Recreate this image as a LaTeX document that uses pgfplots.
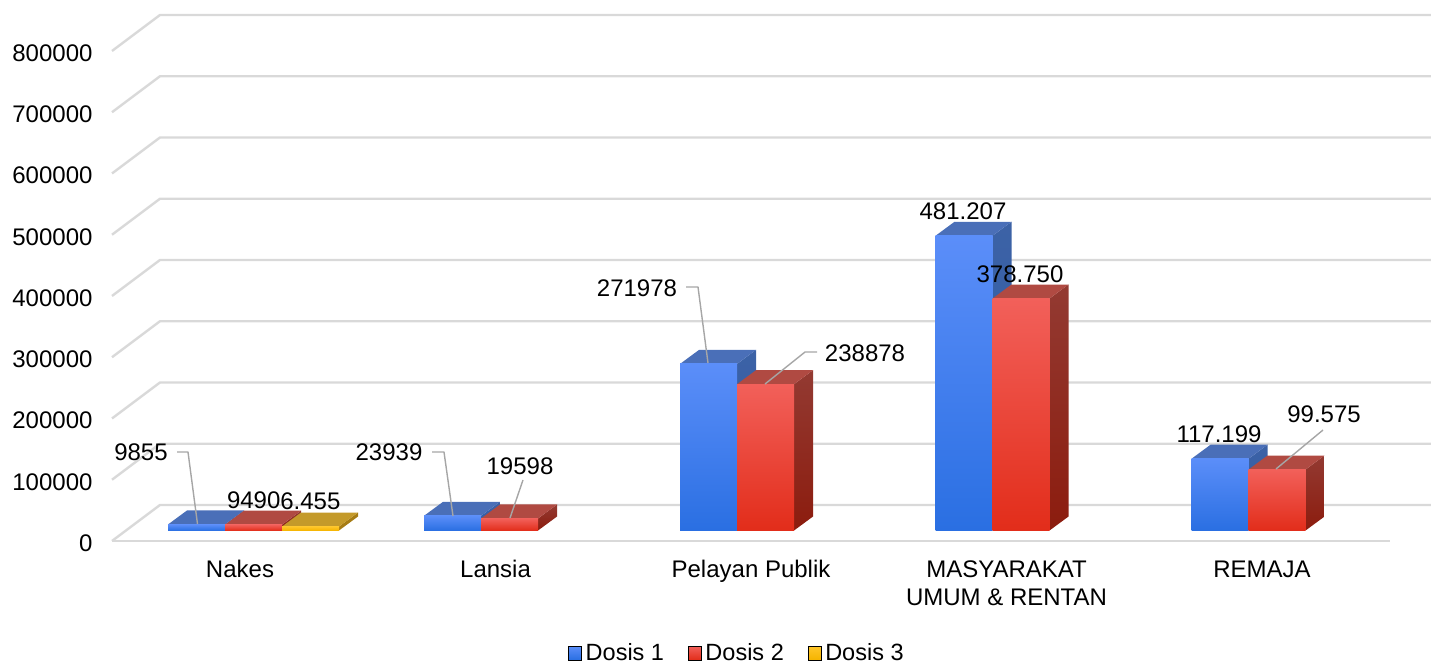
\documentclass[border=0pt]{standalone}
\usepackage{pgfplots}
\pgfplotsset{compat=1.18}
\usepackage{fontspec}
\setmainfont{Liberation Sans}
\definecolor{gridc}{HTML}{D9D9D9}
\definecolor{leader}{HTML}{A6A6A6}
\definecolor{aF1}{HTML}{5B8EF9}\definecolor{aF2}{HTML}{3B83F8}\definecolor{aF3}{HTML}{2A6FE2}
\definecolor{aT}{HTML}{4A6FB8}\definecolor{aS1}{HTML}{3C62A6}\definecolor{aS2}{HTML}{2F5CA8}
\definecolor{bF1}{HTML}{F2605A}\definecolor{bF2}{HTML}{F43C2B}\definecolor{bF3}{HTML}{E22D1A}
\definecolor{bT}{HTML}{B04A42}\definecolor{bS1}{HTML}{933A32}\definecolor{bS2}{HTML}{8C1C0E}
\definecolor{cF1}{HTML}{FFC629}\definecolor{cF2}{HTML}{FFC015}\definecolor{cF3}{HTML}{F5B400}
\definecolor{cT}{HTML}{C49A2A}\definecolor{cS1}{HTML}{A67C14}\definecolor{cS2}{HTML}{A67C14}
% #1 category index, #2 bar centre offset (px), #3 value, #4 colour prefix
\newcommand\threedbar[4]{%
  \addplot[forget plot,draw=none,top color=#4S1,bottom color=#4S2]
    table[row sep=\\,
      x expr={#1+(#2-28.5+\thisrow{u}*57+\thisrow{d}*19)/255.5},
      y expr={17143+\thisrow{t}*#3+\thisrow{d}*22857}]
    {u t d\\ 1 0 0\\ 1 1 0\\ 1 1 1\\ 1 0 1\\} -- cycle;
  \addplot[forget plot,draw=none,fill=#4T]
    table[row sep=\\,
      x expr={#1+(#2-28.5+\thisrow{u}*57+\thisrow{d}*19)/255.5},
      y expr={17143+\thisrow{t}*#3+\thisrow{d}*22857}]
    {u t d\\ 0 1 0\\ 1 1 0\\ 1 1 1\\ 0 1 1\\} -- cycle;
  \addplot[forget plot,ybar,bar width=57pt,bar shift=#2pt,yshift=10.5pt,draw=none,
    top color=#4F1,middle color=#4F2,bottom color=#4F3]
    coordinates {(#1,#3)};
}
\newcommand\gridline[2]{%
  \addplot[forget plot,gridc,line width=2.4pt,line join=round]
    coordinates {(-0.50098,#1) (-0.31311,#2) (4.6614,#2)};
}
\begin{document}
\begin{tikzpicture}
\path[use as bounding box] (0,0) rectangle (1431pt,663pt);
\begin{axis}[
  at={(112pt,122pt)},anchor=south west,
  scale only axis,width=1319pt,height=526pt,
  xmin=-0.50098,xmax=4.6614,ymin=0,ymax=858776,
  clip=false,
  axis line style={draw=none},
  tick style={draw=none},
  xtick={0,1,2,3,4},
  xticklabels={Nakes,Lansia,Pelayan Publik,{MASYARAKAT\\UMUM \& RENTAN},REMAJA},
  ytick={0,100000,200000,300000,400000,500000,600000,700000,800000},
  scaled y ticks=false,
  /pgf/number format/1000 sep={},
  /pgf/number format/fixed,
  /pgf/number format/assume math mode=true,
  tick label style={font=\fontsize{24}{28}\selectfont,text=black},
  xticklabel style={align=center,anchor=north,yshift=-16pt},
  yticklabel style={anchor=east,xshift=-16pt,yshift=-2pt},
  legend columns=3,
  legend style={draw=none,fill=none,font=\fontsize{23.5}{26}\selectfont,
    at={(axis cs:1.945,-182500)},anchor=center,inner sep=0pt,outer sep=0pt,
    /tikz/column 1/.style={column sep=2pt},
    /tikz/column 3/.style={column sep=2pt},
    /tikz/column 5/.style={column sep=2pt},
    /tikz/column 2/.style={column sep=22pt},
    /tikz/column 4/.style={column sep=22pt}},
  legend cell align=left,
]
\gridline{0}{58776}
\gridline{100000}{158776}
\gridline{200000}{258776}
\gridline{300000}{358776}
\gridline{400000}{458776}
\gridline{500000}{558776}
\gridline{600000}{658776}
\gridline{700000}{758776}
\gridline{800000}{858776}
\addplot[forget plot,gridc,line width=2.4pt] coordinates {(-0.50098,0) (4.5009,0)};
% Nakes
\threedbar{0}{-43.5}{9855}{a}
\threedbar{0}{13.5}{9490}{b}
\threedbar{0}{70.5}{6455}{c}
% Lansia
\threedbar{1}{-43}{23939}{a}
\threedbar{1}{14}{19598}{b}
% Pelayan Publik
\threedbar{2}{-42.5}{271978}{a}
\threedbar{2}{14.5}{238878}{b}
% Masyarakat
\threedbar{3}{-42.5}{481207}{a}
\threedbar{3}{14.5}{378750}{b}
% Remaja
\threedbar{4}{-42}{117199}{a}
\threedbar{4}{15}{99575}{b}
\addlegendimage{legend image code/.code={\shade[top color=aF1,bottom color=aF3] (0pt,-7pt) rectangle (13pt,6.5pt);}}
\addlegendentry{Dosis 1}
\addlegendimage{legend image code/.code={\shade[top color=bF1,bottom color=bF3] (0pt,-7pt) rectangle (13pt,6.5pt);}}
\addlegendentry{Dosis 2}
\addlegendimage{legend image code/.code={\shade[top color=cF1,bottom color=cF3] (0pt,-7pt) rectangle (13pt,6.5pt);}}
\addlegendentry{Dosis 3}
\end{axis}
\begin{scope}[shift={(0,663pt)},x=1pt,y=-1pt,
  lbl/.style={font=\fontsize{24}{28}\selectfont,text=black,inner sep=0pt},
  ldr/.style={leader,line width=1.4pt,line join=round}]
\draw[ldr] (177,452)--(188,452)--(197.5,524);
\draw[ldr] (432,452)--(444,452)--(453,516);
\draw[ldr] (523,480)--(510,518);
\draw[ldr] (686,287)--(698,287)--(708,363);
\draw[ldr] (817,352)--(805,352)--(765,384);
\draw[ldr] (1323,430)--(1276,469);
\node[lbl] at (141,452) {9855};
\node[lbl] at (253.7,500) {9490};
\node[lbl] at (310.4,501) {6.455};
\node[lbl] at (389,452) {23939};
\node[lbl] at (520,466) {19598};
\node[lbl] at (637,288) {271978};
\node[lbl] at (865,353) {238878};
\node[lbl] at (963,211) {481.207};
\node[lbl] at (1020,274) {378.750};
\node[lbl] at (1219,434) {117.199};
\node[lbl] at (1324,414) {99.575};
\end{scope}
\end{tikzpicture}
\end{document}
